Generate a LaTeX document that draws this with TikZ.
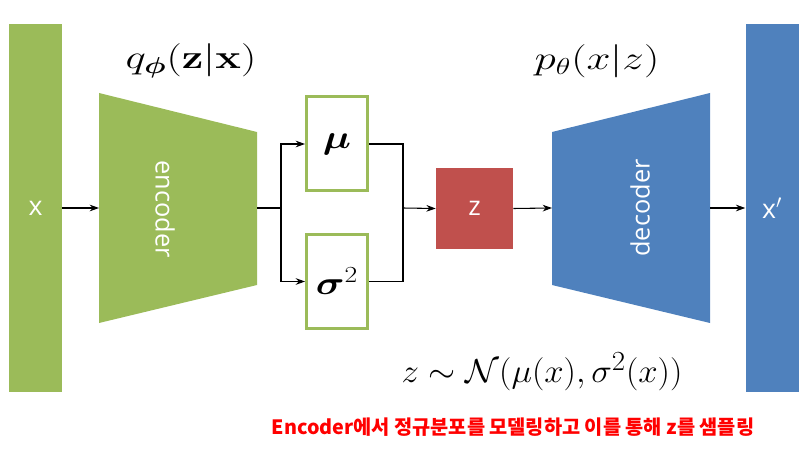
\documentclass[tikz,border=0pt]{standalone}
\usepackage{amsmath,bm}
\usepackage[no-math]{fontspec}
\setmainfont{Open Sans}
\newfontfamily\krfont{Noto Sans CJK KR}
\usetikzlibrary{arrows.meta}
\definecolor{vaegreen}{HTML}{9BBB59}
\definecolor{vaeblue}{HTML}{4F81BD}
\definecolor{vaered}{HTML}{C0504D}
\newcommand{\wideit}[1]{\scalebox{1.2}[1]{#1}}
\begin{document}
\begin{tikzpicture}[x=0.75pt, y=-0.75pt,
    bar/.style={inner sep=0pt, minimum width=39.75pt, minimum height=276pt, text=white, font=\fontsize{20}{24}\selectfont},
    parambox/.style={draw=vaegreen, line width=2.25pt, fill=white, minimum width=45.75pt, minimum height=70.5pt, font=\fontsize{23}{27}\selectfont},
    flow/.style={line width=0.8pt, -{Stealth[length=7pt, width=5pt]}},
    wire/.style={line width=0.8pt}]
  \useasboundingbox (0,0) rectangle (806,452);

  % input and output bars
  \node[bar, fill=vaegreen] (xin) at (35.5,208) {x};
  \node[bar, fill=vaeblue] (xout) at (772,208) {x$'$};

  % encoder
  \fill[vaegreen] (99,93) -- (257,132) -- (257,285) -- (99,323) -- cycle;
  \coordinate (enc-in) at (99,208);
  \coordinate (enc-out) at (257,208);
  \node[text=white, rotate=-90, font=\fontsize{19}{22}\selectfont] (enc) at (165,209) {encoder};
  \node[xscale=1.3, font=\fontsize{25}{29}\selectfont] (qlabel) at (191,61) {$q_{\bm{\phi}}(\mathbf{z}|\mathbf{x})$};

  % mean and variance
  \node[parambox] (mu) at (337,144) {\wideit{$\bm{\mu}$}};
  \node[parambox] (sig) at (337,281.5) {\wideit{$\bm{\sigma}^2$}};

  % latent
  \node[fill=vaered, minimum width=57.75pt, minimum height=60.75pt, text=white, font=\fontsize{20}{24}\selectfont] (z) at (474.5,208.5) {z};

  % decoder
  \fill[vaeblue] (552,132) -- (710,93) -- (710,323) -- (552,285) -- cycle;
  \coordinate (dec-in) at (552,208);
  \coordinate (dec-out) at (710,208);
  \node[text=white, rotate=90, font=\fontsize{19}{22}\selectfont] (dec) at (640,208) {decoder};
  \node[xscale=1.3, font=\fontsize{25}{29}\selectfont] (plabel) at (597,61) {$p_\theta(x|z)$};

  % connectors
  \coordinate (split) at (281,208);
  \coordinate (merge) at (403,208);
  \draw[flow] (xin.east) -- (enc-in);
  \draw[wire] (enc-out) -- (split);
  \draw[flow] (split) |- (mu.west);
  \draw[flow] (split) |- (sig.west);
  \draw[wire] (mu.east) -| (merge);
  \draw[wire] (sig.east) -| (merge);
  \draw[flow] (merge) -- (z.west);
  \draw[flow] (z.east) -- (dec-in);
  \draw[flow] (dec-out) -- (xout.west);

  % sampling
  \node[xscale=1.05, font=\fontsize{29.5}{33}\selectfont] (dist) at (542,372) {$z \sim \mathcal{N}(\mu(x), \sigma^2(x))$};
  \node[text=red, font=\krfont\bfseries\fontsize{14.8}{18}\selectfont] (note) at (513,427) {Encoder에서 정규분포를 모델링하고 이를 통해 z를 샘플링};
\end{tikzpicture}
\end{document}
